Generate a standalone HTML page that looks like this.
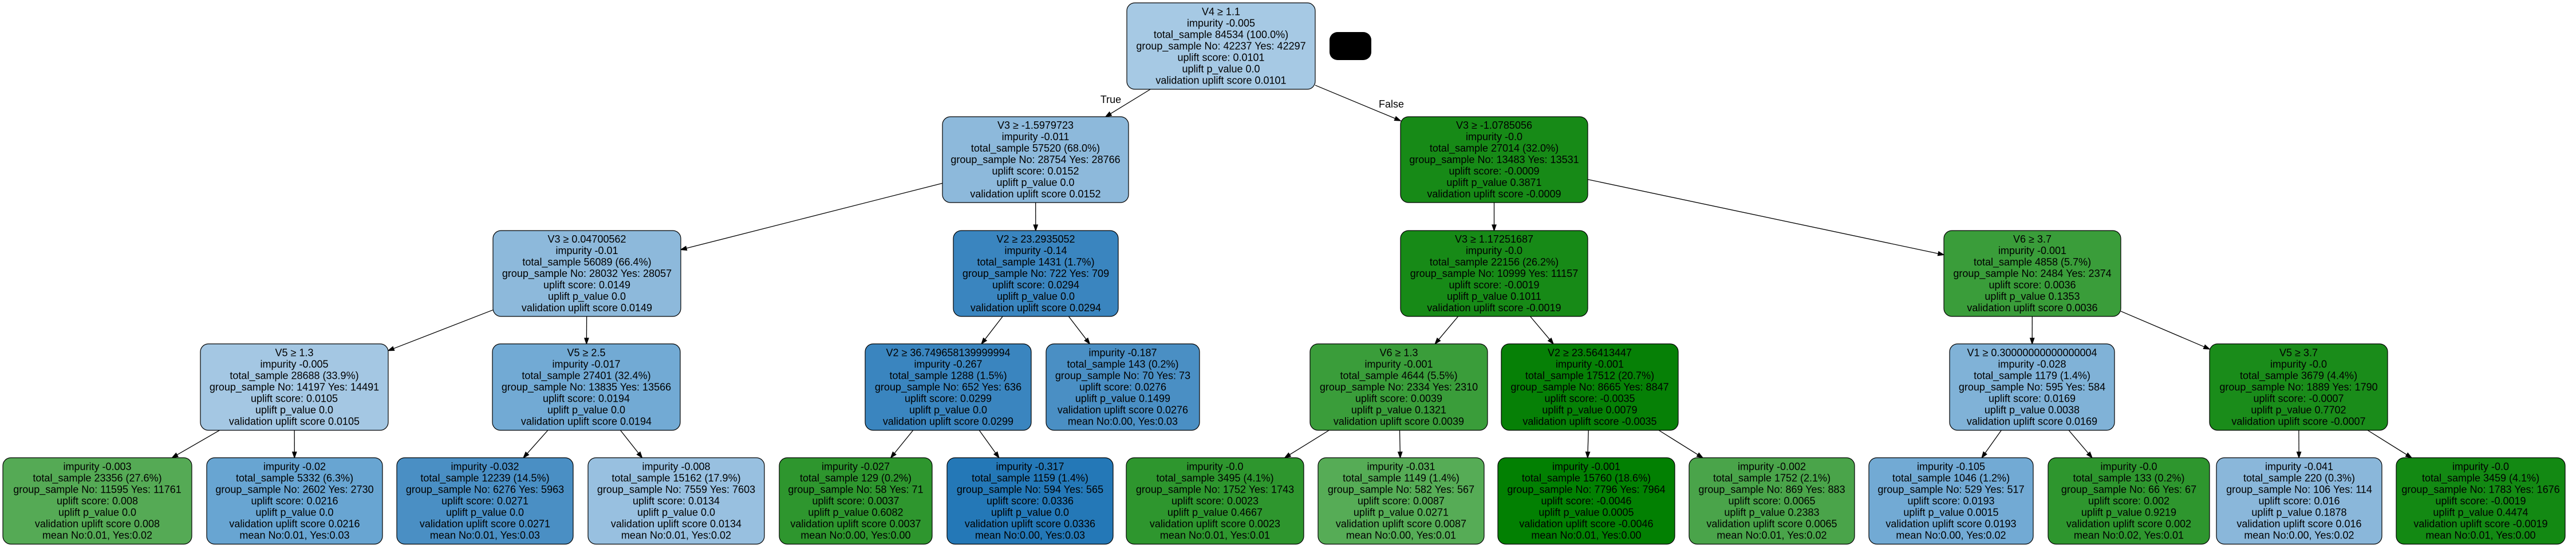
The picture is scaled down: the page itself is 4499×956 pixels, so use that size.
<!DOCTYPE html>
<html><head><meta charset="utf-8"><style>
html,body{margin:0;padding:0;background:#fff;}
svg{display:block;}
text{font-family:"Liberation Sans",Arial,sans-serif;font-size:18px;text-anchor:middle;fill:#000;}
rect.n{stroke:#000;stroke-width:1.2;}
</style></head><body>
<svg id="s" width="4499" height="956" viewBox="0 0 4499 956" xmlns="http://www.w3.org/2000/svg">
<g id="edges" stroke="#000" stroke-width="1.3" fill="#000"></g>
<g id="nodes">
<!-- root -->
<rect class="n" x="1968" y="5" width="329" height="151" rx="14" fill="#a6c9e4"/>
<text x="2132.5" y="26.5"><tspan x="2132.5">V4 ≥ 1.1</tspan><tspan x="2132.5" dy="20">impurity -0.005</tspan><tspan x="2132.5" dy="20">total_sample 84534 (100.0%)</tspan><tspan x="2132.5" dy="20">group_sample  No: 42237 Yes: 42297</tspan><tspan x="2132.5" dy="20">uplift score: 0.0101</tspan><tspan x="2132.5" dy="20">uplift p_value 0.0</tspan><tspan x="2132.5" dy="20">validation uplift score 0.0101</tspan></text>
<rect x="2322" y="56" width="73" height="49" rx="14" fill="#000"/>
<text x="1940" y="180">True</text>
<text x="2430" y="188">False</text>

<!-- level 1 -->
<rect class="n" x="1646" y="204" width="325" height="150" rx="14" fill="#8db9db"/>
<text x="1808.5" y="225"><tspan x="1808.5">V3 ≥ -1.5979723</tspan><tspan x="1808.5" dy="20">impurity -0.011</tspan><tspan x="1808.5" dy="20">total_sample 57520 (68.0%)</tspan><tspan x="1808.5" dy="20">group_sample  No: 28754 Yes: 28766</tspan><tspan x="1808.5" dy="20">uplift score: 0.0152</tspan><tspan x="1808.5" dy="20">uplift p_value 0.0</tspan><tspan x="1808.5" dy="20">validation uplift score 0.0152</tspan></text>
<rect class="n" x="2446" y="204" width="327" height="150" rx="14" fill="#178a17"/>
<text x="2609.5" y="225"><tspan x="2609.5">V3 ≥ -1.0785056</tspan><tspan x="2609.5" dy="20">impurity -0.0</tspan><tspan x="2609.5" dy="20">total_sample 27014 (32.0%)</tspan><tspan x="2609.5" dy="20">group_sample  No: 13483 Yes: 13531</tspan><tspan x="2609.5" dy="20">uplift score: -0.0009</tspan><tspan x="2609.5" dy="20">uplift p_value 0.3871</tspan><tspan x="2609.5" dy="20">validation uplift score -0.0009</tspan></text>

<!-- level 2 -->
<rect class="n" x="861" y="403" width="328" height="150" rx="14" fill="#8db9db"/>
<text x="1025" y="424"><tspan x="1025">V3 ≥ 0.04700562</tspan><tspan x="1025" dy="20">impurity -0.01</tspan><tspan x="1025" dy="20">total_sample 56089 (66.4%)</tspan><tspan x="1025" dy="20">group_sample  No: 28032 Yes: 28057</tspan><tspan x="1025" dy="20">uplift score: 0.0149</tspan><tspan x="1025" dy="20">uplift p_value 0.0</tspan><tspan x="1025" dy="20">validation uplift score 0.0149</tspan></text>
<rect class="n" x="1665" y="403" width="288" height="150" rx="14" fill="#3a85bf"/>
<text x="1809" y="424"><tspan x="1809">V2 ≥ 23.2935052</tspan><tspan x="1809" dy="20">impurity -0.14</tspan><tspan x="1809" dy="20">total_sample 1431 (1.7%)</tspan><tspan x="1809" dy="20">group_sample  No: 722 Yes: 709</tspan><tspan x="1809" dy="20">uplift score: 0.0294</tspan><tspan x="1809" dy="20">uplift p_value 0.0</tspan><tspan x="1809" dy="20">validation uplift score 0.0294</tspan></text>
<rect class="n" x="2446" y="403" width="327" height="150" rx="14" fill="#178a17"/>
<text x="2609.5" y="424"><tspan x="2609.5">V3 ≥ 1.17251687</tspan><tspan x="2609.5" dy="20">impurity -0.0</tspan><tspan x="2609.5" dy="20">total_sample 22156 (26.2%)</tspan><tspan x="2609.5" dy="20">group_sample  No: 10999 Yes: 11157</tspan><tspan x="2609.5" dy="20">uplift score: -0.0019</tspan><tspan x="2609.5" dy="20">uplift p_value 0.1011</tspan><tspan x="2609.5" dy="20">validation uplift score -0.0019</tspan></text>
<rect class="n" x="3395" y="403" width="309" height="150" rx="14" fill="#3a9d3a"/>
<text x="3549.5" y="424"><tspan x="3549.5">V6 ≥ 3.7</tspan><tspan x="3549.5" dy="20">impurity -0.001</tspan><tspan x="3549.5" dy="20">total_sample 4858 (5.7%)</tspan><tspan x="3549.5" dy="20">group_sample  No: 2484 Yes: 2374</tspan><tspan x="3549.5" dy="20">uplift score: 0.0036</tspan><tspan x="3549.5" dy="20">uplift p_value 0.1353</tspan><tspan x="3549.5" dy="20">validation uplift score 0.0036</tspan></text>

<!-- level 3 -->
<rect class="n" x="350" y="601" width="328" height="151" rx="14" fill="#a4c7e3"/>
<text x="514" y="622.5"><tspan x="514">V5 ≥ 1.3</tspan><tspan x="514" dy="20">impurity -0.005</tspan><tspan x="514" dy="20">total_sample 28688 (33.9%)</tspan><tspan x="514" dy="20">group_sample  No: 14197 Yes: 14491</tspan><tspan x="514" dy="20">uplift score: 0.0105</tspan><tspan x="514" dy="20">uplift p_value 0.0</tspan><tspan x="514" dy="20">validation uplift score 0.0105</tspan></text>
<rect class="n" x="860" y="601" width="328" height="151" rx="14" fill="#72aad4"/>
<text x="1024" y="622.5"><tspan x="1024">V5 ≥ 2.5</tspan><tspan x="1024" dy="20">impurity -0.017</tspan><tspan x="1024" dy="20">total_sample 27401 (32.4%)</tspan><tspan x="1024" dy="20">group_sample  No: 13835 Yes: 13566</tspan><tspan x="1024" dy="20">uplift score: 0.0194</tspan><tspan x="1024" dy="20">uplift p_value 0.0</tspan><tspan x="1024" dy="20">validation uplift score 0.0194</tspan></text>
<rect class="n" x="1511" y="601" width="290" height="151" rx="14" fill="#3a85bf"/>
<text x="1656" y="622.5"><tspan x="1656">V2 ≥ 36.749658139999994</tspan><tspan x="1656" dy="20">impurity -0.267</tspan><tspan x="1656" dy="20">total_sample 1288 (1.5%)</tspan><tspan x="1656" dy="20">group_sample  No: 652 Yes: 636</tspan><tspan x="1656" dy="20">uplift score: 0.0299</tspan><tspan x="1656" dy="20">uplift p_value 0.0</tspan><tspan x="1656" dy="20">validation uplift score 0.0299</tspan></text>
<rect class="n" x="1827" y="601" width="268" height="151" rx="14" fill="#4a8fc4"/>
<text x="1961" y="622.5"><tspan x="1961">impurity -0.187</tspan><tspan x="1961" dy="20">total_sample 143 (0.2%)</tspan><tspan x="1961" dy="20">group_sample  No: 70 Yes: 73</tspan><tspan x="1961" dy="20">uplift score: 0.0276</tspan><tspan x="1961" dy="20">uplift p_value 0.1499</tspan><tspan x="1961" dy="20">validation uplift score 0.0276</tspan><tspan x="1961" dy="20">mean No:0.00, Yes:0.03</tspan></text>
<rect class="n" x="2288" y="601" width="310" height="151" rx="14" fill="#3a9d3a"/>
<text x="2443" y="622.5"><tspan x="2443">V6 ≥ 1.3</tspan><tspan x="2443" dy="20">impurity -0.001</tspan><tspan x="2443" dy="20">total_sample 4644 (5.5%)</tspan><tspan x="2443" dy="20">group_sample  No: 2334 Yes: 2310</tspan><tspan x="2443" dy="20">uplift score: 0.0039</tspan><tspan x="2443" dy="20">uplift p_value 0.1321</tspan><tspan x="2443" dy="20">validation uplift score 0.0039</tspan></text>
<rect class="n" x="2622" y="601" width="309" height="151" rx="14" fill="#068006"/>
<text x="2776.5" y="622.5"><tspan x="2776.5">V2 ≥ 23.56413447</tspan><tspan x="2776.5" dy="20">impurity -0.001</tspan><tspan x="2776.5" dy="20">total_sample 17512 (20.7%)</tspan><tspan x="2776.5" dy="20">group_sample  No: 8665 Yes: 8847</tspan><tspan x="2776.5" dy="20">uplift score: -0.0035</tspan><tspan x="2776.5" dy="20">uplift p_value 0.0079</tspan><tspan x="2776.5" dy="20">validation uplift score -0.0035</tspan></text>
<rect class="n" x="3405" y="601" width="288" height="151" rx="14" fill="#80b2d7"/>
<text x="3549" y="622.5"><tspan x="3549">V1 ≥ 0.30000000000000004</tspan><tspan x="3549" dy="20">impurity -0.028</tspan><tspan x="3549" dy="20">total_sample 1179 (1.4%)</tspan><tspan x="3549" dy="20">group_sample  No: 595 Yes: 584</tspan><tspan x="3549" dy="20">uplift score: 0.0169</tspan><tspan x="3549" dy="20">uplift p_value 0.0038</tspan><tspan x="3549" dy="20">validation uplift score 0.0169</tspan></text>
<rect class="n" x="3859" y="601" width="311" height="151" rx="14" fill="#1a8c1a"/>
<text x="4014.5" y="622.5"><tspan x="4014.5">V5 ≥ 3.7</tspan><tspan x="4014.5" dy="20">impurity -0.0</tspan><tspan x="4014.5" dy="20">total_sample 3679 (4.4%)</tspan><tspan x="4014.5" dy="20">group_sample  No: 1889 Yes: 1790</tspan><tspan x="4014.5" dy="20">uplift score: -0.0007</tspan><tspan x="4014.5" dy="20">uplift p_value 0.7702</tspan><tspan x="4014.5" dy="20">validation uplift score -0.0007</tspan></text>

<!-- leaves -->
<rect class="n" x="5" y="800" width="330" height="151" rx="14" fill="#55aa55"/>
<text x="170" y="821.5"><tspan x="170">impurity -0.003</tspan><tspan x="170" dy="20">total_sample 23356 (27.6%)</tspan><tspan x="170" dy="20">group_sample  No: 11595 Yes: 11761</tspan><tspan x="170" dy="20">uplift score: 0.008</tspan><tspan x="170" dy="20">uplift p_value 0.0</tspan><tspan x="170" dy="20">validation uplift score 0.008</tspan><tspan x="170" dy="20">mean No:0.01, Yes:0.02</tspan></text>
<rect class="n" x="361" y="800" width="307" height="151" rx="14" fill="#68a5d2"/>
<text x="514.5" y="821.5"><tspan x="514.5">impurity -0.02</tspan><tspan x="514.5" dy="20">total_sample 5332 (6.3%)</tspan><tspan x="514.5" dy="20">group_sample  No: 2602 Yes: 2730</tspan><tspan x="514.5" dy="20">uplift score: 0.0216</tspan><tspan x="514.5" dy="20">uplift p_value 0.0</tspan><tspan x="514.5" dy="20">validation uplift score 0.0216</tspan><tspan x="514.5" dy="20">mean No:0.01, Yes:0.03</tspan></text>
<rect class="n" x="693" y="800" width="308" height="151" rx="14" fill="#4a8fc4"/>
<text x="847" y="821.5"><tspan x="847">impurity -0.032</tspan><tspan x="847" dy="20">total_sample 12239 (14.5%)</tspan><tspan x="847" dy="20">group_sample  No: 6276 Yes: 5963</tspan><tspan x="847" dy="20">uplift score: 0.0271</tspan><tspan x="847" dy="20">uplift p_value 0.0</tspan><tspan x="847" dy="20">validation uplift score 0.0271</tspan><tspan x="847" dy="20">mean No:0.01, Yes:0.03</tspan></text>
<rect class="n" x="1027" y="800" width="308" height="151" rx="14" fill="#98c0e0"/>
<text x="1181" y="821.5"><tspan x="1181">impurity -0.008</tspan><tspan x="1181" dy="20">total_sample 15162 (17.9%)</tspan><tspan x="1181" dy="20">group_sample  No: 7559 Yes: 7603</tspan><tspan x="1181" dy="20">uplift score: 0.0134</tspan><tspan x="1181" dy="20">uplift p_value 0.0</tspan><tspan x="1181" dy="20">validation uplift score 0.0134</tspan><tspan x="1181" dy="20">mean No:0.01, Yes:0.02</tspan></text>
<rect class="n" x="1361" y="800" width="267" height="151" rx="14" fill="#2e962e"/>
<text x="1494.5" y="821.5"><tspan x="1494.5">impurity -0.027</tspan><tspan x="1494.5" dy="20">total_sample 129 (0.2%)</tspan><tspan x="1494.5" dy="20">group_sample  No: 58 Yes: 71</tspan><tspan x="1494.5" dy="20">uplift score: 0.0037</tspan><tspan x="1494.5" dy="20">uplift p_value 0.6082</tspan><tspan x="1494.5" dy="20">validation uplift score 0.0037</tspan><tspan x="1494.5" dy="20">mean No:0.00, Yes:0.00</tspan></text>
<rect class="n" x="1654" y="800" width="290" height="151" rx="14" fill="#2478b7"/>
<text x="1799" y="821.5"><tspan x="1799">impurity -0.317</tspan><tspan x="1799" dy="20">total_sample 1159 (1.4%)</tspan><tspan x="1799" dy="20">group_sample  No: 594 Yes: 565</tspan><tspan x="1799" dy="20">uplift score: 0.0336</tspan><tspan x="1799" dy="20">uplift p_value 0.0</tspan><tspan x="1799" dy="20">validation uplift score 0.0336</tspan><tspan x="1799" dy="20">mean No:0.00, Yes:0.03</tspan></text>
<rect class="n" x="1967" y="800" width="310" height="151" rx="14" fill="#2e962e"/>
<text x="2122" y="821.5"><tspan x="2122">impurity -0.0</tspan><tspan x="2122" dy="20">total_sample 3495 (4.1%)</tspan><tspan x="2122" dy="20">group_sample  No: 1752 Yes: 1743</tspan><tspan x="2122" dy="20">uplift score: 0.0023</tspan><tspan x="2122" dy="20">uplift p_value 0.4667</tspan><tspan x="2122" dy="20">validation uplift score 0.0023</tspan><tspan x="2122" dy="20">mean No:0.01, Yes:0.01</tspan></text>
<rect class="n" x="2302" y="800" width="290" height="151" rx="14" fill="#56ac56"/>
<text x="2447" y="821.5"><tspan x="2447">impurity -0.031</tspan><tspan x="2447" dy="20">total_sample 1149 (1.4%)</tspan><tspan x="2447" dy="20">group_sample  No: 582 Yes: 567</tspan><tspan x="2447" dy="20">uplift score: 0.0087</tspan><tspan x="2447" dy="20">uplift p_value 0.0271</tspan><tspan x="2447" dy="20">validation uplift score 0.0087</tspan><tspan x="2447" dy="20">mean No:0.00, Yes:0.01</tspan></text>
<rect class="n" x="2616" y="800" width="309" height="151" rx="14" fill="#028002"/>
<text x="2770.5" y="821.5"><tspan x="2770.5">impurity -0.001</tspan><tspan x="2770.5" dy="20">total_sample 15760 (18.6%)</tspan><tspan x="2770.5" dy="20">group_sample  No: 7796 Yes: 7964</tspan><tspan x="2770.5" dy="20">uplift score: -0.0046</tspan><tspan x="2770.5" dy="20">uplift p_value 0.0005</tspan><tspan x="2770.5" dy="20">validation uplift score -0.0046</tspan><tspan x="2770.5" dy="20">mean No:0.01, Yes:0.00</tspan></text>
<rect class="n" x="2950" y="800" width="289" height="151" rx="14" fill="#4aa44a"/>
<text x="3094.5" y="821.5"><tspan x="3094.5">impurity -0.002</tspan><tspan x="3094.5" dy="20">total_sample 1752 (2.1%)</tspan><tspan x="3094.5" dy="20">group_sample  No: 869 Yes: 883</tspan><tspan x="3094.5" dy="20">uplift score: 0.0065</tspan><tspan x="3094.5" dy="20">uplift p_value 0.2383</tspan><tspan x="3094.5" dy="20">validation uplift score 0.0065</tspan><tspan x="3094.5" dy="20">mean No:0.01, Yes:0.02</tspan></text>
<rect class="n" x="3264" y="800" width="287" height="151" rx="14" fill="#72aad4"/>
<text x="3407.5" y="821.5"><tspan x="3407.5">impurity -0.105</tspan><tspan x="3407.5" dy="20">total_sample 1046 (1.2%)</tspan><tspan x="3407.5" dy="20">group_sample  No: 529 Yes: 517</tspan><tspan x="3407.5" dy="20">uplift score: 0.0193</tspan><tspan x="3407.5" dy="20">uplift p_value 0.0015</tspan><tspan x="3407.5" dy="20">validation uplift score 0.0193</tspan><tspan x="3407.5" dy="20">mean No:0.00, Yes:0.02</tspan></text>
<rect class="n" x="3577" y="800" width="282" height="151" rx="14" fill="#2e962e"/>
<text x="3718" y="821.5"><tspan x="3718">impurity -0.0</tspan><tspan x="3718" dy="20">total_sample 133 (0.2%)</tspan><tspan x="3718" dy="20">group_sample  No: 66 Yes: 67</tspan><tspan x="3718" dy="20">uplift score: 0.002</tspan><tspan x="3718" dy="20">uplift p_value 0.9219</tspan><tspan x="3718" dy="20">validation uplift score 0.002</tspan><tspan x="3718" dy="20">mean No:0.02, Yes:0.01</tspan></text>
<rect class="n" x="3871" y="800" width="289" height="151" rx="14" fill="#8ab7da"/>
<text x="4015.5" y="821.5"><tspan x="4015.5">impurity -0.041</tspan><tspan x="4015.5" dy="20">total_sample 220 (0.3%)</tspan><tspan x="4015.5" dy="20">group_sample  No: 106 Yes: 114</tspan><tspan x="4015.5" dy="20">uplift score: 0.016</tspan><tspan x="4015.5" dy="20">uplift p_value 0.1878</tspan><tspan x="4015.5" dy="20">validation uplift score 0.016</tspan><tspan x="4015.5" dy="20">mean No:0.00, Yes:0.02</tspan></text>
<rect class="n" x="4185" y="800" width="295" height="151" rx="14" fill="#138913"/>
<text x="4332.5" y="821.5"><tspan x="4332.5">impurity -0.0</tspan><tspan x="4332.5" dy="20">total_sample 3459 (4.1%)</tspan><tspan x="4332.5" dy="20">group_sample  No: 1783 Yes: 1676</tspan><tspan x="4332.5" dy="20">uplift score: -0.0019</tspan><tspan x="4332.5" dy="20">uplift p_value 0.4474</tspan><tspan x="4332.5" dy="20">validation uplift score -0.0019</tspan><tspan x="4332.5" dy="20">mean No:0.01, Yes:0.00</tspan></text>
</g>
</svg>
<script>
(function(){
var B={
r:[1968,2297,5,156],a:[1646,1971,204,354],b:[2446,2773,204,354],
a1:[861,1189,403,553],a2:[1665,1953,403,553],b1:[2446,2773,403,553],b2:[3395,3704,403,553],
c1:[350,678,601,752],c2:[860,1188,601,752],c3:[1511,1801,601,752],c4:[1827,2095,601,752],
c5:[2288,2598,601,752],c6:[2622,2931,601,752],c7:[3405,3693,601,752],c8:[3859,4170,601,752],
l1:[5,335,800,951],l2:[361,668,800,951],l3:[693,1001,800,951],l4:[1027,1335,800,951],
l5:[1361,1628,800,951],l6:[1654,1944,800,951],l7:[1967,2277,800,951],l8:[2302,2592,800,951],
l9:[2616,2925,800,951],l10:[2950,3239,800,951],l11:[3264,3551,800,951],l12:[3577,3859,800,951],
l13:[3871,4160,800,951],l14:[4185,4480,800,951]};
var E=[["r","a"],["r","b"],["a","a1"],["a","a2"],["b","b1"],["b","b2"],["a1","c1"],["a1","c2"],["a2","c3"],["a2","c4"],
["b1","c5"],["b1","c6"],["b2","c7"],["b2","c8"],["c1","l1"],["c1","l2"],["c2","l3"],["c2","l4"],["c3","l5"],["c3","l6"],
["c5","l7"],["c5","l8"],["c6","l9"],["c6","l10"],["c7","l11"],["c7","l12"],["c8","l13"],["c8","l14"]];
function clip(b,cx,cy,dx,dy){var t=1e9;
if(dx>0)t=Math.min(t,(b[1]-cx)/dx);if(dx<0)t=Math.min(t,(b[0]-cx)/dx);
if(dy>0)t=Math.min(t,(b[3]-cy)/dy);if(dy<0)t=Math.min(t,(b[2]-cy)/dy);return t;}
var g=document.getElementById("edges"),ns="http://www.w3.org/2000/svg",h="";
E.forEach(function(e){var p=B[e[0]],c=B[e[1]];
var px=(p[0]+p[1])/2,py=(p[2]+p[3])/2,cx=(c[0]+c[1])/2,cy=(c[2]+c[3])/2;
var dx=cx-px,dy=cy-py,L=Math.sqrt(dx*dx+dy*dy),ux=dx/L,uy=dy/L;
var t1=clip(p,px,py,ux,uy),t2=clip(c,cx,cy,-ux,-uy);
var x1=px+ux*t1,y1=py+uy*t1,x2=cx-ux*t2,y2=cy-uy*t2;
var bx=x2-ux*10,by=y2-uy*10,nx=-uy*3.5,ny=ux*3.5;
h+='<line x1="'+x1+'" y1="'+y1+'" x2="'+bx+'" y2="'+by+'"/>';
h+='<polygon points="'+x2+','+y2+' '+(bx+nx)+','+(by+ny)+' '+(bx-nx)+','+(by-ny)+'"/>';});
g.innerHTML=h;})();
</script>
</body></html>
